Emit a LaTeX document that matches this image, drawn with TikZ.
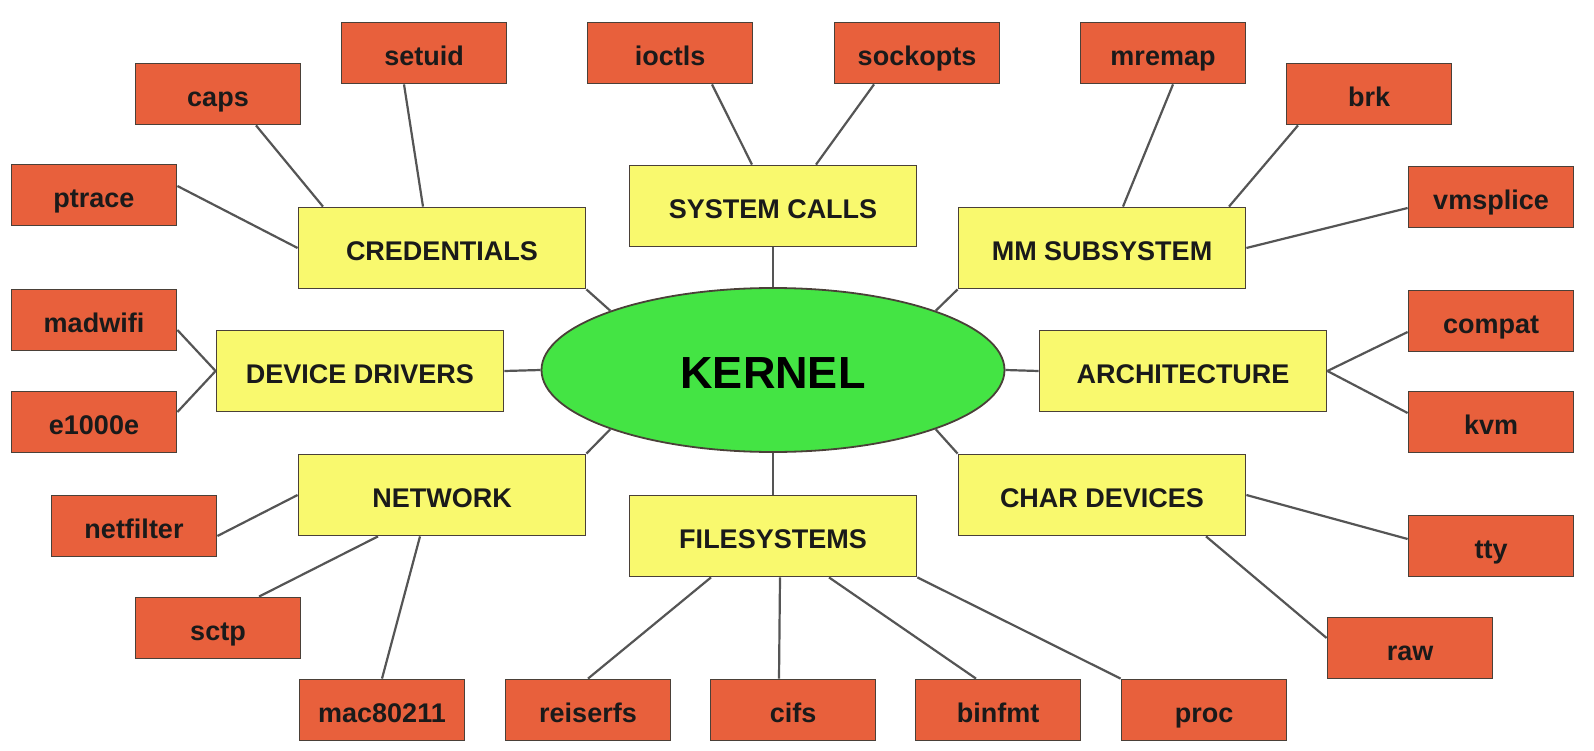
\documentclass[tikz,border=0pt]{standalone}
\usepackage{fontspec}
\setmainfont{Liberation Sans}
\usetikzlibrary{shapes.geometric}
\definecolor{leafred}{HTML}{E8603C}
\definecolor{subyellow}{HTML}{F9F96E}
\definecolor{kerngreen}{HTML}{44E444}
\definecolor{boxline}{HTML}{4A4038}
\definecolor{linegray}{HTML}{555555}
\definecolor{textdark}{HTML}{1A1A1A}
\begin{document}
\begin{tikzpicture}[x=1pt,y=-1pt,
    leaf/.style={draw=boxline,line width=1.8pt,fill=leafred,text=textdark,
      minimum width=165pt,minimum height=61pt,inner sep=0pt,
      text height=25pt,text depth=0pt,
      font=\fontsize{27}{30}\selectfont\bfseries},
    subsys/.style={draw=boxline,line width=1.8pt,fill=subyellow,text=textdark,
      minimum width=287pt,minimum height=81pt,inner sep=0pt,
      text height=25pt,text depth=0pt,
      font=\fontsize{27}{30}\selectfont\bfseries},
    kern/.style={ellipse,draw=boxline,line width=1.8pt,fill=kerngreen,text=black,
      minimum width=463pt,minimum height=164pt,inner sep=0pt,
      text height=36pt,text depth=0pt,
      font=\fontsize{45}{50}\selectfont\bfseries},
    link/.style={draw=linegray,line width=2.2pt}]
  \useasboundingbox (0,0) rectangle (1594,751);
  \draw
    (773,370) node[kern] (kernel){KERNEL}
    (773,206) node[subsys] (syscalls){SYSTEM CALLS}
    (442,248) node[subsys] (cred){CREDENTIALS}
    (1102,248) node[subsys] (mm){MM SUBSYSTEM}
    (360,371) node[subsys] (devdrv){DEVICE DRIVERS}
    (1183,371) node[subsys] (arch){ARCHITECTURE}
    (442,495) node[subsys] (network){NETWORK}
    (773,536) node[subsys] (fs){FILESYSTEMS}
    (1102,495) node[subsys] (chardev){CHAR DEVICES};
  \draw
    (424,53) node[leaf] (setuid){setuid}
    (218,94) node[leaf] (caps){caps}
    (94,195) node[leaf] (ptrace){ptrace}
    (94,320) node[leaf] (madwifi){madwifi}
    (94,422) node[leaf] (e1000e){e1000e}
    (134,526) node[leaf] (netfilter){netfilter}
    (218,628) node[leaf] (sctp){sctp}
    (382,710) node[leaf] (mac80211){mac80211}
    (588,710) node[leaf] (reiserfs){reiserfs}
    (793,710) node[leaf] (cifs){cifs}
    (998,710) node[leaf] (binfmt){binfmt}
    (1204,710) node[leaf] (proc){proc}
    (1410,648) node[leaf] (raw){raw}
    (1491,546) node[leaf] (tty){tty}
    (1491,422) node[leaf] (kvm){kvm}
    (1491,321) node[leaf] (compat){compat}
    (1491,197) node[leaf] (vmsplice){vmsplice}
    (1369,94) node[leaf] (brk){brk}
    (1163,53) node[leaf] (mremap){mremap}
    (917,53) node[leaf] (sockopts){sockopts}
    (670,53) node[leaf] (ioctls){ioctls};
  \begin{scope}[link]
    % subsystems to the kernel
    \draw (syscalls.south) to (kernel.north);
    \draw (fs.north) to (kernel.south);
    \draw (devdrv.east) to (kernel.west);
    \draw (arch.west) to (kernel.east);
    \draw (cred.south east) to (kernel.160);
    \draw (mm.south west) to (kernel.20);
    \draw (network.north east) to (kernel.200);
    \draw (chardev.north west) to (kernel.340);
    % leaves
    \draw ([xshift=-20pt]setuid.south) to ([xshift=-19pt]cred.north);
    \draw ([xshift=38pt]caps.south) to ([xshift=-119pt]cred.north);
    \draw ([yshift=9pt]ptrace.east) to (cred.west);
    \draw ([yshift=-10pt]madwifi.east) to (devdrv.west);
    \draw ([yshift=10pt]e1000e.east) to (devdrv.west);
    \draw ([yshift=-10pt]netfilter.east) to (network.west);
    \draw ([xshift=41pt]sctp.north) to ([xshift=-64pt]network.south);
    \draw (mac80211.north) to ([xshift=-22pt]network.south);
    \draw (reiserfs.north) to ([xshift=-62pt]fs.south);
    \draw ([xshift=-14pt]cifs.north) to ([xshift=7pt]fs.south);
    \draw ([xshift=-22pt]binfmt.north) to ([xshift=56pt]fs.south);
    \draw (proc.north west) to (fs.south east);
    \draw ([yshift=10pt]raw.west) to ([xshift=104pt]chardev.south);
    \draw ([yshift=7pt]tty.west) to (chardev.east);
    \draw ([yshift=9pt]kvm.west) to (arch.east);
    \draw ([yshift=-11pt]compat.west) to (arch.east);
    \draw ([yshift=-11pt]vmsplice.west) to (mm.east);
    \draw ([xshift=-71pt]brk.south) to ([xshift=127pt]mm.north);
    \draw ([xshift=10pt]mremap.south) to ([xshift=21pt]mm.north);
    \draw ([xshift=-43pt]sockopts.south) to ([xshift=43pt]syscalls.north);
    \draw ([xshift=42pt]ioctls.south) to ([xshift=-21pt]syscalls.north);
  \end{scope}
\end{tikzpicture}
\end{document}
